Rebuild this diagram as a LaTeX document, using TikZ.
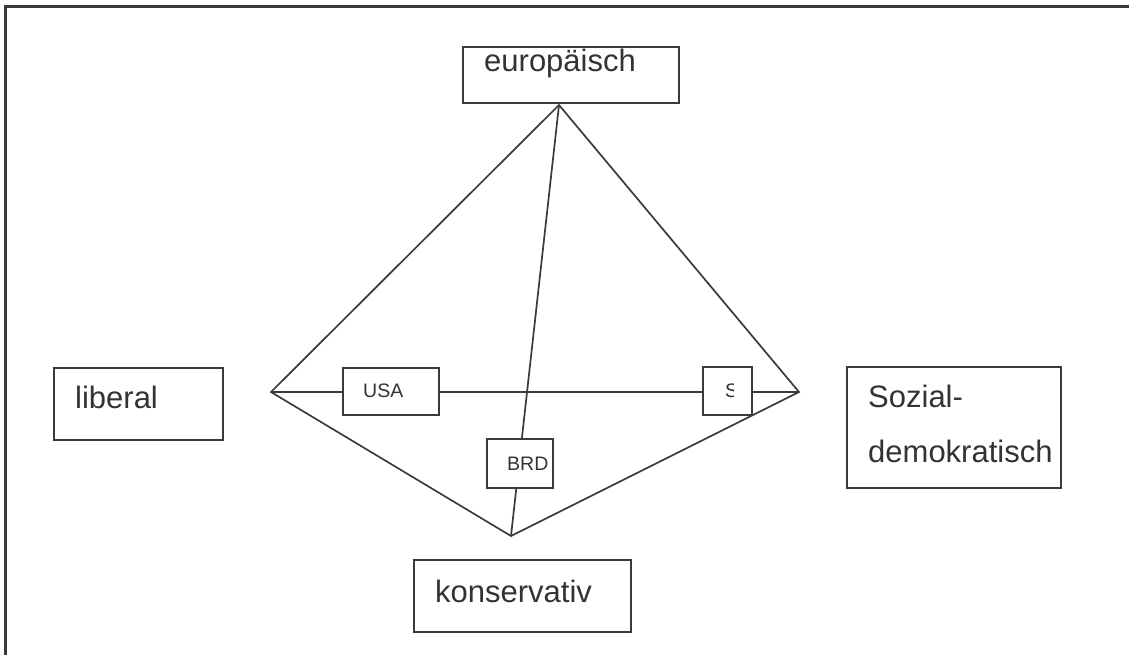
\documentclass[tikz,border=0pt]{standalone}
\usepackage{fontspec}
\setmainfont{Liberation Sans}
\definecolor{ink}{HTML}{3A3A3A}
\definecolor{txt}{HTML}{333333}
\begin{document}
\begin{tikzpicture}[x=1pt,y=-1pt,
  box/.style={draw=ink, line width=1.8pt, fill=white, inner sep=0, outer sep=0, anchor=north west},
  big/.style={font=\fontsize{31}{37}\selectfont, text=txt, anchor=base west, inner sep=0},
  small/.style={font=\fontsize{19.5}{23}\selectfont, text=txt, anchor=base west, inner sep=0},
  edge/.style={draw=ink, line width=1.7pt, line join=miter}]
\useasboundingbox (0,0) rectangle (1129,655);
% frame
\draw[ink, line width=2.2pt] (5.5,655) -- (5.5,6.5) -- (1129,6.5);
% vertices
\coordinate (E) at (559,105);
\coordinate (L) at (271,392);
\coordinate (R) at (799,392);
\coordinate (K) at (511,536);
% connectors
\draw[edge] (L) -- (E) -- (R) -- (K) -- cycle;
\draw[edge] (L) -- (R);
\draw[edge] (E) -- (K);
% outer boxes
\node[box, minimum width=216pt, minimum height=56pt] (euro) at (463,47) {};
\node[big] (eurot) at (484,72) {europäisch};
\node[box, minimum width=169pt, minimum height=72pt] (lib) at (54,368) {};
\node[big] (libt) at (75,408) {liberal};
\node[box, minimum width=214pt, minimum height=121pt] (soz) at (847,367) {};
\node[big] (sozt1) at (868,407) {Sozial-};
\node[big] (sozt2) at (868,462) {demokratisch};
\node[box, minimum width=217pt, minimum height=72pt] (kon) at (414,560) {};
\node[big] (kont) at (435,602) {konservativ};
% inner boxes
\node[box, minimum width=96pt, minimum height=47pt] (usa) at (343,368) {};
\node[small] (usat) at (363,397) {USA};
\node[box, minimum width=66pt, minimum height=49pt] (brd) at (487,439) {};
\node[small] (brdt) at (507,470) {BRD};
\node[box, minimum width=49pt, minimum height=48pt] (swe) at (703,367) {};
\begin{scope}
  \clip (703,367) rectangle (733,415);
  \node[small] (swet) at (725,397) {S};
\end{scope}
\end{tikzpicture}
\end{document}
